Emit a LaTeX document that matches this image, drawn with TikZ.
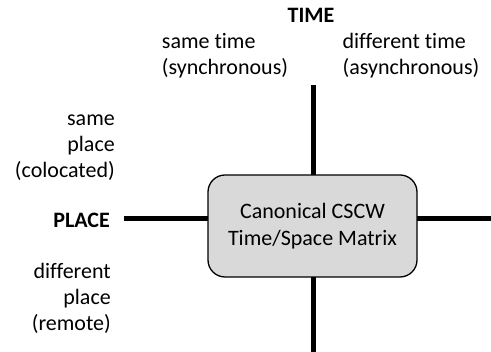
\documentclass[tikz,border=0pt]{standalone}
\usepackage{fontspec}
\setmainfont[Ligatures=NoCommon]{Carlito}
\begin{document}
\begin{tikzpicture}[x=1pt,y=-1pt,
  lbl/.style={inner sep=0pt,font=\fontsize{22}{26}\selectfont},
  axis/.style={line width=5pt},
  matrixbox/.style={draw=black,line width=1.3pt,fill=black!15,rounded corners=17pt,
    minimum width=209pt,minimum height=102pt,align=center,inner sep=0pt,
    font=\fontsize{22}{27}\selectfont}]
\useasboundingbox (0,0) rectangle (491,352);
\coordinate (vtop) at (313,85);
\coordinate (vbot) at (313,352);
\coordinate (hleft) at (124,219);
\coordinate (hright) at (491,219);
\draw[axis] (vtop) -- (vbot);
\draw[axis] (hleft) -- (hright);
\node[matrixbox] (box) at (312.5,226) {Canonical CSCW\\Time/Space Matrix};
\node[lbl,font=\fontsize{22}{26}\selectfont\bfseries] (time) at (311,15) {TIME};
\node[lbl,align=left] (sync) at (225,56) {same time\\(synchronous)};
\node[lbl,align=left] (async) at (411,56) {different time\\(asynchronous)};
\node[lbl,align=right,anchor=east] (same) at (115,148) {same\\place\\(colocated)};
\node[lbl,anchor=east,font=\fontsize{22}{26}\selectfont\bfseries] (place) at (110,220) {PLACE};
\node[lbl,align=right,anchor=east] (diff) at (111,298) {different\\place\\(remote)};
\end{tikzpicture}
\end{document}
